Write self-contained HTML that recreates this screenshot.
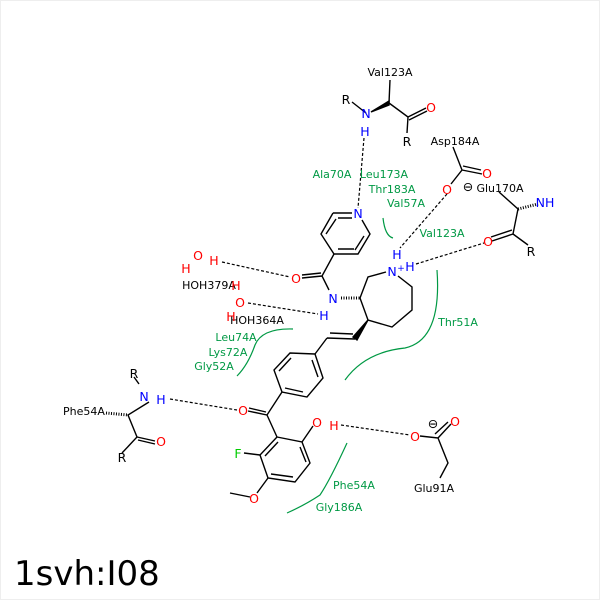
<!DOCTYPE html>
<html><head><style>body{margin:0;background:#fff}svg{display:block}</style></head><body>
<svg width="600" height="600" viewBox="0 0 600 600" xmlns="http://www.w3.org/2000/svg" font-family="'DejaVu Sans','Liberation Sans',sans-serif" font-size="11">
<rect x="0.5" y="0.5" width="599" height="599" fill="#fff" stroke="#eee"/>
<g stroke="#000" stroke-width="1.4" fill="none">
<path d="M389 103 L390 80 M389 103 L408 117 L407 133 M408 117 L426 108 M409 120 L427 111 M366 113 L352 102"/>
<path d="M371 112 L389 101 L389 105 Z" fill="#000"/>
<path d="M333 213 L352 213 M362 220 L370 234 L358 254 L334 254 L321 234 L333 213 M338 218 L352 218 M364 236 L355 250 M338 249 L354 249 M326 234 L336 219"/>
<path d="M334 254 L322 276 L329 290 M322 276 L302 278 M321 273 L302 275"/>
<path d="M360 298 L368 277 L386 272 M398 276 L412 287 L412 310 L392 327 L368 320 L360 298"/>
<path d="M341 298 L360 298" stroke-dasharray="1,1.5" stroke-width="3"/>
<path d="M368 320 L353 337 L357 340 Z" fill="#000"/>
<path d="M355 339 L327 338 M353 334 L330 333 M327 338 L315 354"/>
<path d="M315 354 L323 378 L307 397 L282 392 L274 370 L290 353 L315 354 M312 360 L318 377 M303 392 L285 388 M279 371 L291 358"/>
<path d="M282 392 L267 415 L248 411 M266 412 L249 408 M267 415 L277 437"/>
<path d="M277 437 L302 442 L310 463 L295 482 L268 478 L260 455 L277 437 M300 447 L306 462 M293 477 L271 474 M265 456 L278 442"/>
<path d="M302 442 L313 426 M260 455 L244 453 M268 478 L257 493 M250 497 L230 493"/>
<path d="M139 384 L134 377 M149 402 L128 415 L137 437 L122 453 M137 437 L155 441 M138 440 L155 444"/>
<path d="M106 413 L128 415" stroke-dasharray="1,1.5" stroke-width="3"/>
<path d="M420 436 L438 438 L451 424 M435 434 L448 422 M438 438 L448 463 L440 478"/>
<path d="M453 147 L462 170 L451 184 M462 170 L482 174 M463 166 L481 170"/>
<path d="M499 192 L518 209 L513 234 L492 241 M512 230 L491 237 M513 234 L528 245"/>
<path d="M518 209 L538 204" stroke-dasharray="1,1.5" stroke-width="3"/>
</g>
<g stroke="#000" stroke-width="1.2" fill="none" stroke-dasharray="3,2">
<path d="M364 138 L358 208 M222 262 L290 277 M248 303 L318 314 M170 399 L237 410 M341 425 L410 435 M447 194 L400 248 M416 264 L484 243"/>
</g>
<g stroke="#009944" stroke-width="1.2" fill="none">
<path d="M383 218 Q385 236 393 238"/>
<path d="M437 270 Q442 340 405 348 Q365 352 345 380"/>
<path d="M293 329 Q262 328 255 345 Q248 365 237 376"/>
<path d="M347 443 Q330 480 320 495 Q305 505 287 513"/>
</g>
<g text-anchor="middle">
<text x="390" y="76">Val123A</text>
<text x="455" y="145">Asp184A</text>
<text x="500" y="192">Glu170A</text>
<text x="434" y="492">Glu91A</text>
<text x="84" y="415">Phe54A</text>
<text x="209" y="289">HOH379A</text>
<text x="257" y="324">HOH364A</text>
</g>
<g text-anchor="middle" font-size="12.5">
<text x="346" y="104">R</text>
<text x="366" y="118" fill="#00f">N</text>
<text x="365" y="136" fill="#00f">H</text>
<text x="431" y="112" fill="#f00">O</text>
<text x="407" y="146">R</text>
<text x="358" y="218" fill="#00f">N</text>
<text x="296" y="283" fill="#f00">O</text>
<text x="333" y="303" fill="#00f">N</text>
<text x="324" y="320" fill="#00f">H</text>
<text x="392" y="276" fill="#00f">N</text><text x="401" y="271" fill="#00f" font-size="9">+</text>
<text x="397" y="259" fill="#00f">H</text>
<text x="410" y="271" fill="#00f">H</text>
<text x="198" y="260" fill="#f00">O</text>
<text x="186" y="273" fill="#f00">H</text>
<text x="214" y="265" fill="#f00">H</text>
<text x="236" y="290" fill="#f00">H</text>
<text x="240" y="307" fill="#f00">O</text>
<text x="231" y="321" fill="#f00">H</text>
<text x="243" y="415" fill="#f00">O</text>
<text x="317" y="427" fill="#f00">O</text>
<text x="334" y="430" fill="#f00">H</text>
<text x="238" y="458" fill="#0c0">F</text>
<text x="254" y="503" fill="#f00">O</text>
<text x="134" y="378">R</text>
<text x="144" y="401" fill="#00f">N</text>
<text x="161" y="404" fill="#00f">H</text>
<text x="161" y="446" fill="#f00">O</text>
<text x="122" y="462">R</text>
<text x="415" y="441" fill="#f00">O</text>
<text x="455" y="426" fill="#f00">O</text>
<text x="433" y="428">⊖</text>
<text x="487" y="178" fill="#f00">O</text>
<text x="447" y="194" fill="#f00">O</text>
<text x="468" y="191">⊖</text>
<text x="545" y="207" fill="#00f">NH</text>
<text x="488" y="246" fill="#f00">O</text>
<text x="531" y="256">R</text>
</g>
<g fill="#009944" text-anchor="middle">
<text x="332" y="178">Ala70A</text>
<text x="384" y="178">Leu173A</text>
<text x="392" y="193">Thr183A</text>
<text x="406" y="207">Val57A</text>
<text x="442" y="237">Val123A</text>
<text x="458" y="326">Thr51A</text>
<text x="236" y="341">Leu74A</text>
<text x="228" y="356">Lys72A</text>
<text x="214" y="370">Gly52A</text>
<text x="354" y="489">Phe54A</text>
<text x="339" y="511">Gly186A</text>
</g>
<text x="14" y="585" font-size="34" font-family="'DejaVu Sans',sans-serif">1svh:I08</text>
</svg>
</body></html>
